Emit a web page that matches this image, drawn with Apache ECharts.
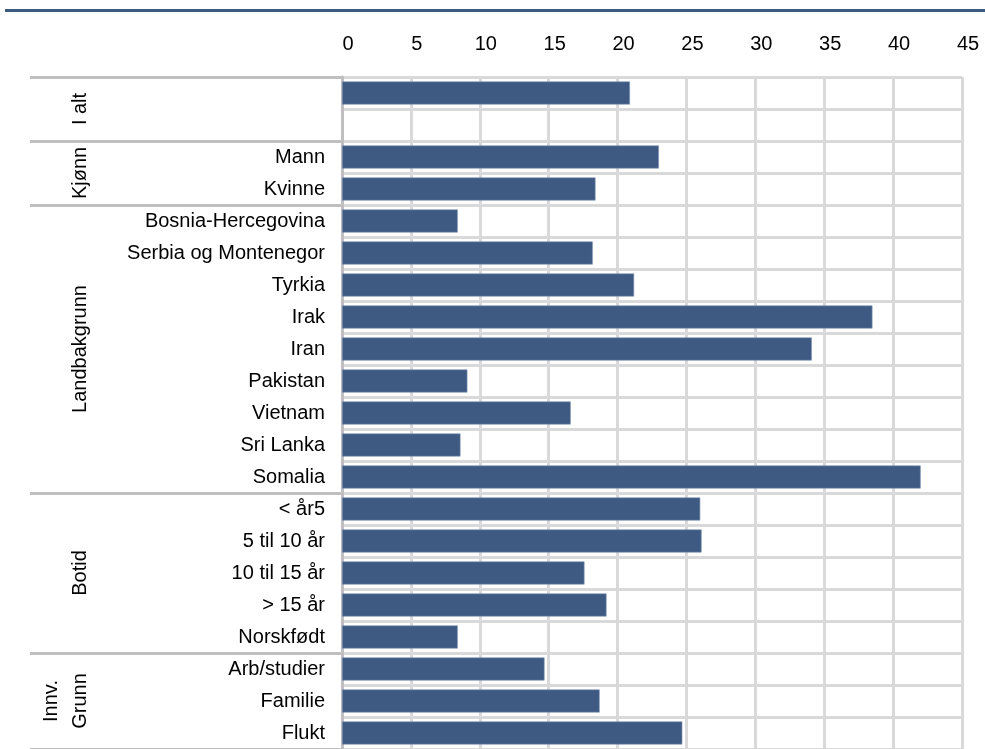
<!DOCTYPE html>
<html>
<head>
<meta charset="utf-8">
<script src="https://cdn.jsdelivr.net/npm/echarts@6/dist/echarts.min.js"></script>
<style>
html,body{margin:0;padding:0;background:#fff;}
#main{width:985px;height:749px;}
</style>
</head>
<body>
<div id="main"></div>
<script>
// ---- data ----
var categories = [' ', '  ', 'Mann', 'Kvinne',
  'Bosnia-Hercegovina', 'Serbia og Montenegor', 'Tyrkia', 'Irak', 'Iran', 'Pakistan', 'Vietnam', 'Sri Lanka', 'Somalia',
  '< år5', '5 til 10 år', '10 til 15 år', '> 15 år', 'Norskfødt',
  'Arb/studier', 'Familie', 'Flukt'];
var values = [20.9, null, 23.0, 18.4,
  8.4, 18.2, 21.2, 38.5, 34.1, 9.1, 16.6, 8.6, 42.0,
  26.0, 26.1, 17.6, 19.2, 8.4,
  14.7, 18.7, 24.7];
var groupNames = ['I alt', 'Kjønn', 'Landbakgrunn', 'Botid', 'Innv.\nGrunn'];
var groupStart = [0, 2, 4, 13, 18];
var groupEnd = [1, 3, 12, 17, 20];
var xTicks = {min: 0, max: 45, interval: 5};

var FONT = '"Liberation Sans", Arial, sans-serif';
var chart = echarts.init(document.getElementById('main'), null, {renderer: 'canvas'});

var option = {
  animation: false,
  backgroundColor: '#ffffff',
  grid: {left: 342, right: 23, top: 77, height: 675, containLabel: false},
  xAxis: {
    type: 'value', position: 'top',
    min: xTicks.min, max: xTicks.max, interval: xTicks.interval,
    axisLine: {show: false}, axisTick: {show: false},
    axisLabel: {fontSize: 20, color: '#000', fontFamily: FONT, margin: 23, padding: [0, 0, 0, 12]},
    splitLine: {show: true, lineStyle: {color: '#d9d9d9', width: 3}}
  },
  yAxis: {
    type: 'category', inverse: true, data: categories,
    axisLine: {show: true, lineStyle: {color: '#bfbfbf', width: 3}},
    axisTick: {
      show: true, length: 312,
      interval: function (idx) { return groupStart.indexOf(idx) >= 0; },
      lineStyle: {color: '#bfbfbf', width: 3}
    },
    axisLabel: {interval: 0, fontSize: 20, color: '#000', fontFamily: FONT, margin: 17},
    splitLine: {show: true, interval: 0, lineStyle: {color: '#d9d9d9', width: 3}}
  },
  series: [{
    type: 'bar', data: values, barCategoryGap: '28%',
    itemStyle: {color: '#3f5a82', borderColor: '#7f93b5', borderWidth: 0.6},
    z: 3
  }],
  graphic: [{
    type: 'line', shape: {x1: 5, y1: 10.5, x2: 985, y2: 10.5},
    style: {stroke: '#3f5a82', lineWidth: 3}
  }]
};
chart.setOption(option);

// group labels, placed from the axis scale
var g = option.graphic.slice();
for (var i = 0; i < groupNames.length; i++) {
  var y1 = chart.convertToPixel({yAxisIndex: 0}, groupStart[i]);
  var y2 = chart.convertToPixel({yAxisIndex: 0}, groupEnd[i]);
  var yc = (y1 + y2) / 2;
  var two = groupNames[i].indexOf('\n') >= 0;
  g.push({
    type: 'text', x: two ? 66 : 80, y: yc, rotation: Math.PI / 2,
    style: {text: groupNames[i], fontSize: 20, fontFamily: FONT, fill: '#000',
      align: 'center', verticalAlign: 'middle', lineHeight: 29}
  });
}
chart.setOption({graphic: g});
</script>
</body>
</html>
